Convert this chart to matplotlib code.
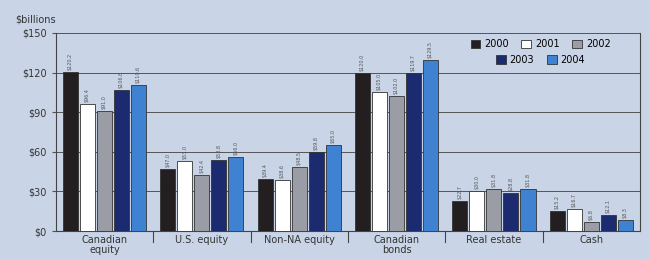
import numpy as np
import matplotlib.pyplot as plt

categories = ["Canadian\nequity", "U.S. equity", "Non-NA equity", "Canadian\nbonds", "Real estate", "Cash"]
years = ["2000", "2001", "2002", "2003", "2004"]
v2000 = [120.2, 47.0, 39.4, 120.0, 22.7, 15.2]
v2001 = [96.4, 53.0, 38.6, 105.0, 30.0, 16.7]
v2002 = [91.0, 42.4, 48.5, 102.0, 31.8, 6.8]
v2003 = [106.8, 53.8, 59.8, 119.7, 28.8, 12.1]
v2004 = [110.6, 56.0, 65.0, 129.5, 31.8, 8.3]
series = [v2000, v2001, v2002, v2003, v2004]
colors = ["#231f20", "#ffffff", "#9a9ca6", "#1c2a70", "#3f82d2"]

bg = "#c9d5e7"
fig = plt.figure(figsize=(6.49, 2.59), dpi=100, facecolor=bg)
ax = fig.add_axes([0.086, 0.108, 0.9, 0.765], facecolor=bg)

x = np.arange(len(categories))
w = 0.155
pitch = 0.175
bars = []
for i, (vals, c) in enumerate(zip(series, colors)):
    pos = x + (i - 2) * pitch
    b = ax.bar(pos, vals, width=w, color=c, edgecolor="#333333", linewidth=0.6,
               label=years[i], zorder=3)
    bars.append(b)
    for p, v in zip(pos, vals):
        ax.text(p, v + 1.5, "$%.1f" % v, rotation=90, ha="center", va="bottom",
                fontsize=3.5, color="#555555", zorder=4)

ax.set_xlim(-0.5, len(categories) - 0.5)
ax.set_ylim(0, 150)
ax.set_yticks(range(0, 151, 30))
ax.set_yticklabels(["$%d" % t for t in range(0, 151, 30)], fontsize=7, color="#333333")
ax.yaxis.grid(True, color="#555555", linewidth=0.7, zorder=0)
ax.set_xticks(x)
ax.set_xticklabels(categories, fontsize=7, color="#333333", linespacing=1.0)
ax.tick_params(axis="x", length=0, pad=3)
ax.tick_params(axis="y", length=3, color="#555555")

# separators between groups below the axis
for s in np.arange(0.5, len(categories) - 0.5, 1.0):
    ax.plot([s, s], [0, -8], color="#444444", linewidth=0.8, clip_on=False)

ax.spines["top"].set_visible(False)
for side in ["left", "right", "bottom"]:
    ax.spines[side].set_color("#444444")

ax.text(-0.07, 1.04, "$billions", transform=ax.transAxes, fontsize=7, color="#333333",
        ha="left", va="bottom")

kw = dict(frameon=False, fontsize=7, handlelength=1.0, handleheight=0.9,
          columnspacing=1.3, handletextpad=0.4, borderpad=0.2)
leg1 = ax.legend(bars[:3], years[:3], ncol=3, loc="center",
                 bbox_to_anchor=(0.83, 0.944), **kw)
ax.add_artist(leg1)
ax.legend(bars[3:], years[3:], ncol=2, loc="center",
          bbox_to_anchor=(0.83, 0.864), **kw)

fig.savefig("out.png", dpi=100, facecolor=bg)
